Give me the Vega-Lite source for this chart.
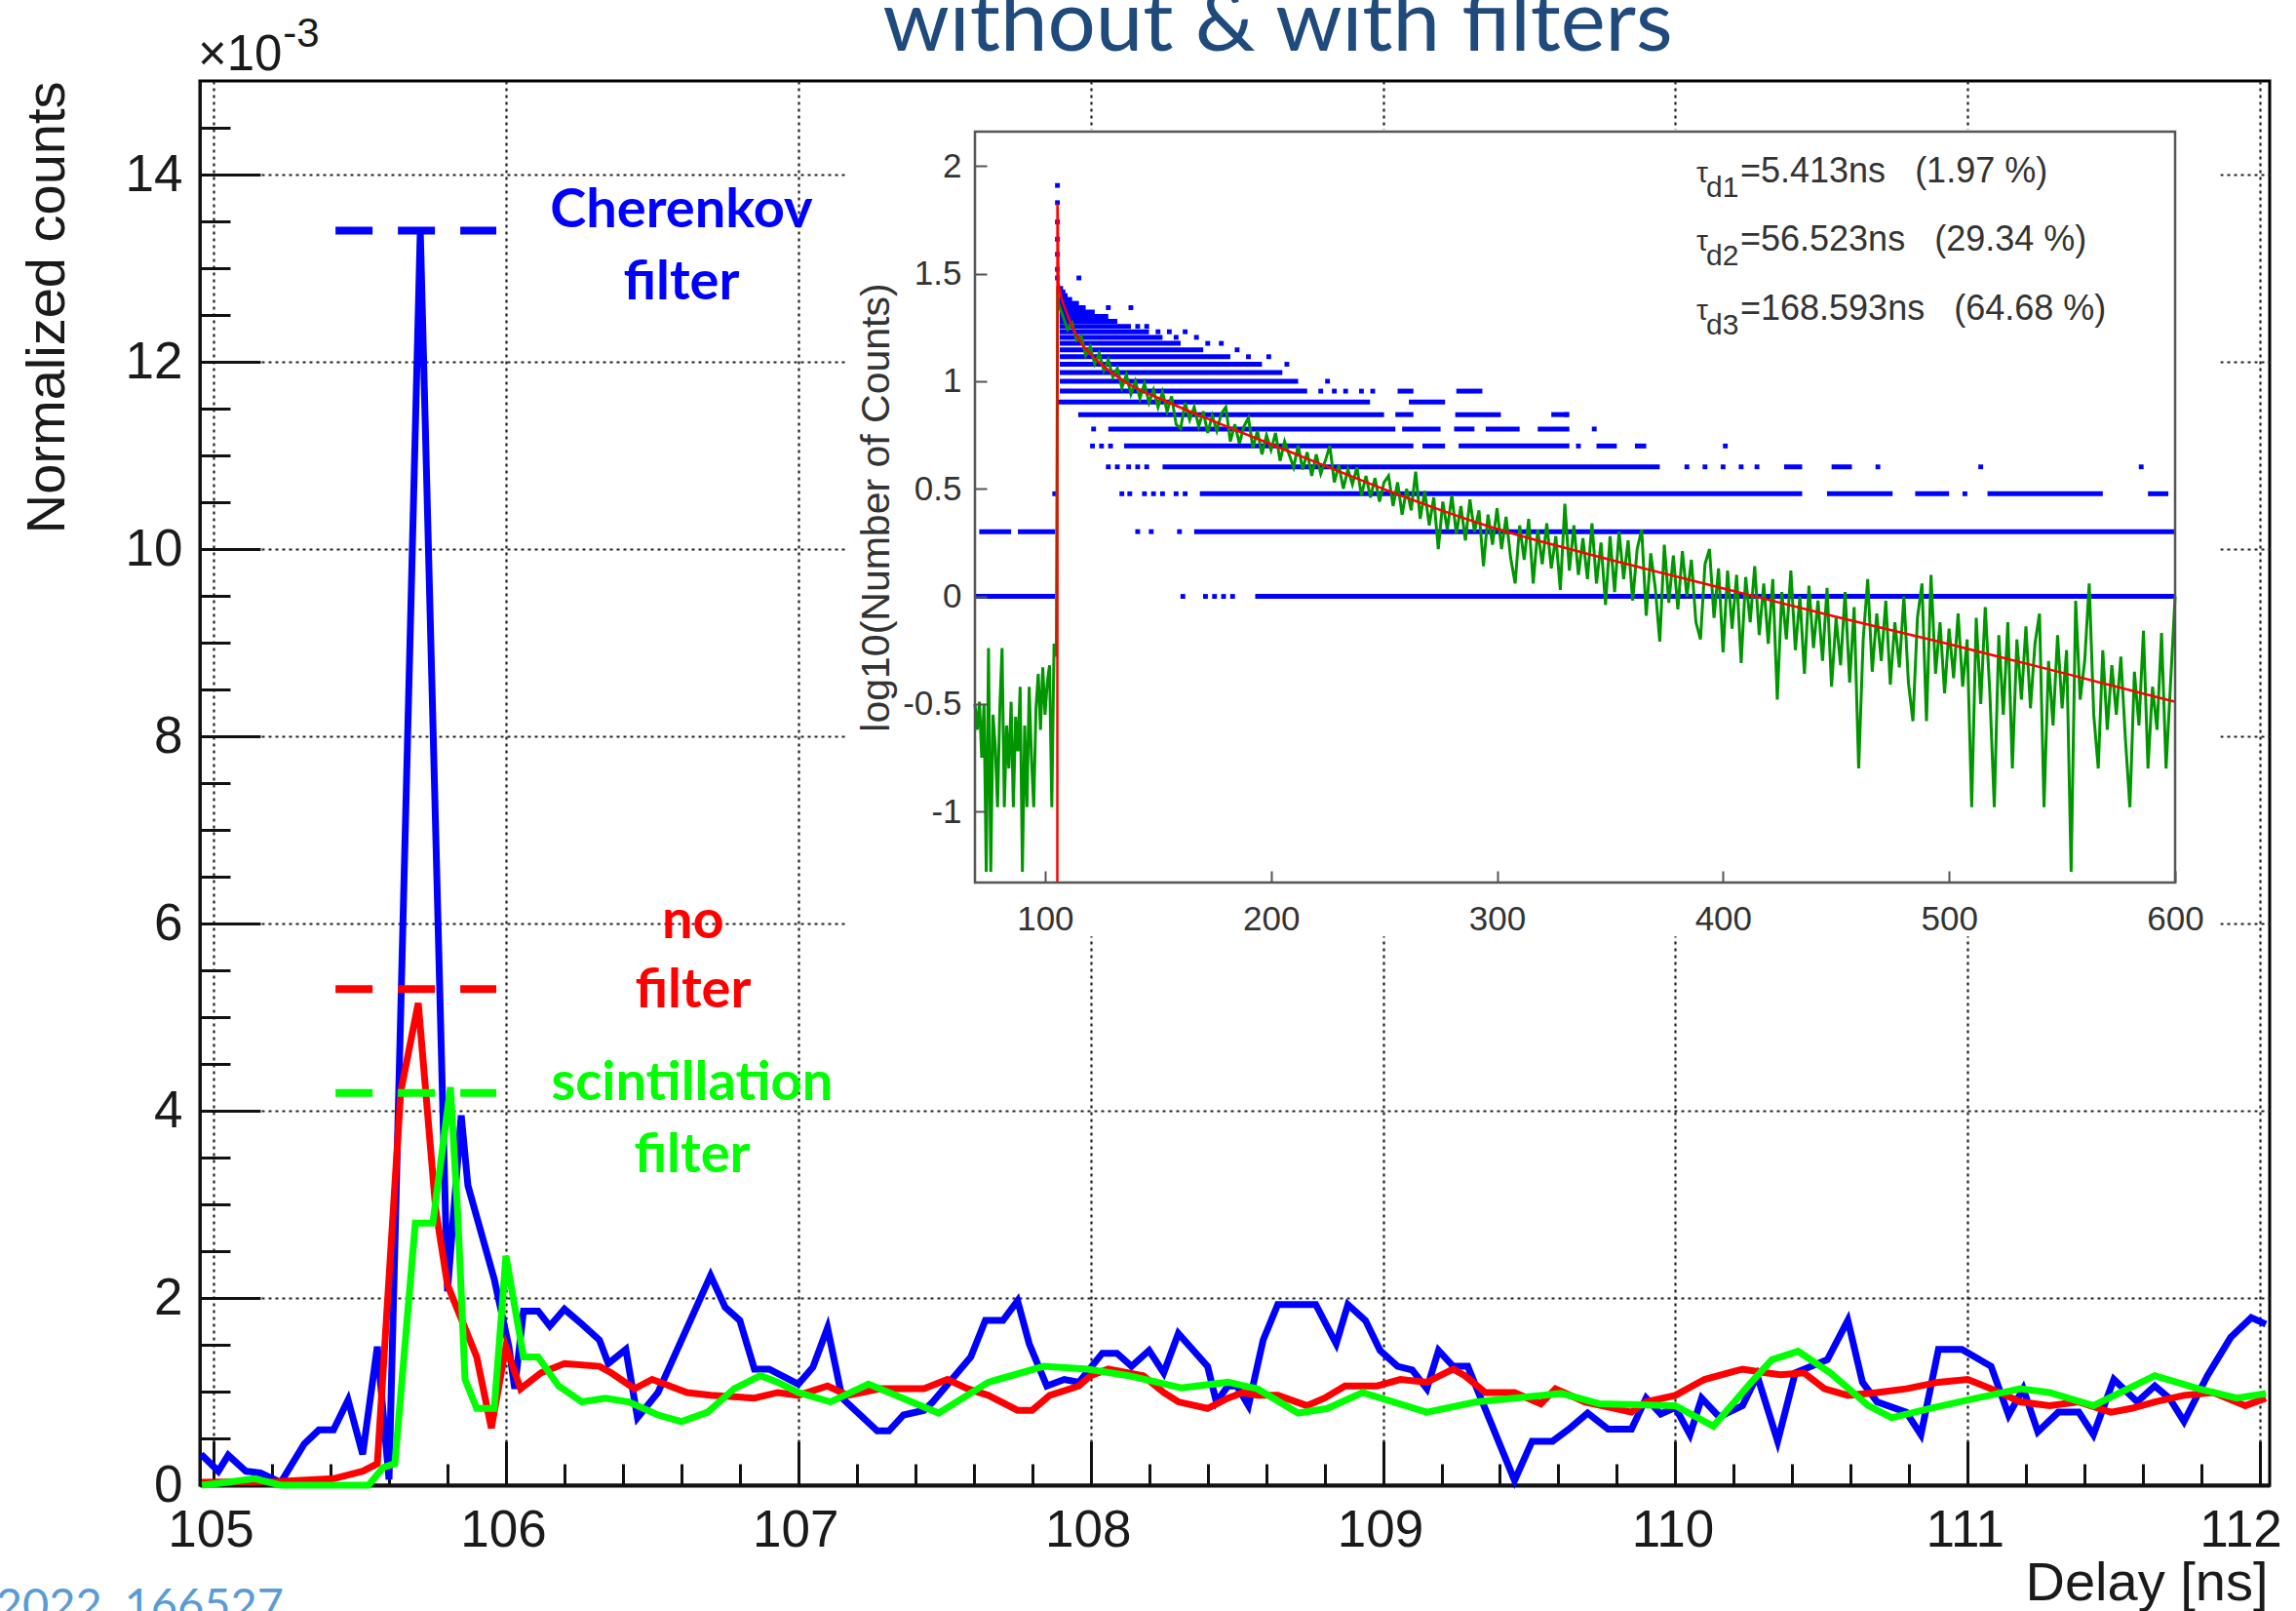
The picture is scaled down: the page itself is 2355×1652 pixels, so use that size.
{
"$schema": "https://vega.github.io/schema/vega-lite/v6.json",
"width": 2123, "height": 1440,
"autosize": {"type": "none"},
"padding": {"left": 205, "top": 83, "right": 27, "bottom": 129},
"background": "white",
"config": {"view": {"stroke": "#000", "strokeWidth": 3}, "font": "Liberation Sans"},
"datasets": {
"blue": [{"x":104.957,"y":0.33},{"x":105.016,"y":0.15},{"x":105.05,"y":0.32},{"x":105.11,"y":0.15},{"x":105.16,"y":0.13},{"x":105.23,"y":0.03},{"x":105.31,"y":0.44},{"x":105.36,"y":0.59},{"x":105.41,"y":0.59},{"x":105.46,"y":0.91},{"x":105.51,"y":0.33},{"x":105.56,"y":1.48},{"x":105.6,"y":0.06},{"x":105.707,"y":13.4},{"x":105.8,"y":2.07},{"x":105.847,"y":3.95},{"x":105.87,"y":3.2},{"x":105.96,"y":2.2},{"x":106.01,"y":1.48},{"x":106.03,"y":1.03},{"x":106.06,"y":1.86},{"x":106.11,"y":1.86},{"x":106.15,"y":1.7},{"x":106.2,"y":1.88},{"x":106.26,"y":1.72},{"x":106.32,"y":1.55},{"x":106.35,"y":1.3},{"x":106.41,"y":1.45},{"x":106.45,"y":0.72},{"x":106.52,"y":0.99},{"x":106.7,"y":2.24},{"x":106.75,"y":1.9},{"x":106.8,"y":1.76},{"x":106.85,"y":1.24},{"x":106.9,"y":1.24},{"x":107.0,"y":1.08},{"x":107.05,"y":1.26},{"x":107.1,"y":1.68},{"x":107.15,"y":0.93},{"x":107.27,"y":0.58},{"x":107.31,"y":0.58},{"x":107.36,"y":0.75},{"x":107.43,"y":0.8},{"x":107.46,"y":0.89},{"x":107.59,"y":1.37},{"x":107.64,"y":1.76},{"x":107.7,"y":1.76},{"x":107.75,"y":1.97},{"x":107.79,"y":1.51},{"x":107.85,"y":1.06},{"x":107.91,"y":1.13},{"x":107.96,"y":1.1},{"x":108.04,"y":1.41},{"x":108.09,"y":1.41},{"x":108.14,"y":1.27},{"x":108.2,"y":1.44},{"x":108.25,"y":1.2},{"x":108.3,"y":1.62},{"x":108.4,"y":1.27},{"x":108.43,"y":0.89},{"x":108.47,"y":1.06},{"x":108.5,"y":1.06},{"x":108.54,"y":0.85},{"x":108.59,"y":1.55},{"x":108.64,"y":1.93},{"x":108.77,"y":1.93},{"x":108.84,"y":1.51},{"x":108.88,"y":1.93},{"x":108.94,"y":1.76},{"x":108.99,"y":1.44},{"x":109.05,"y":1.27},{"x":109.1,"y":1.23},{"x":109.15,"y":1.03},{"x":109.19,"y":1.44},{"x":109.24,"y":1.27},{"x":109.29,"y":1.27},{"x":109.45,"y":0.05},{"x":109.51,"y":0.47},{"x":109.58,"y":0.47},{"x":109.64,"y":0.61},{"x":109.7,"y":0.77},{"x":109.77,"y":0.6},{"x":109.85,"y":0.6},{"x":109.9,"y":0.93},{"x":109.95,"y":0.76},{"x":110.0,"y":0.83},{"x":110.05,"y":0.54},{"x":110.09,"y":0.93},{"x":110.15,"y":0.73},{"x":110.23,"y":0.85},{"x":110.28,"y":1.17},{"x":110.35,"y":0.47},{"x":110.41,"y":1.2},{"x":110.52,"y":1.34},{"x":110.59,"y":1.76},{"x":110.64,"y":1.1},{"x":110.69,"y":0.89},{"x":110.79,"y":0.78},{"x":110.84,"y":0.54},{"x":110.9,"y":1.45},{"x":110.98,"y":1.45},{"x":111.08,"y":1.27},{"x":111.14,"y":0.75},{"x":111.19,"y":1.03},{"x":111.24,"y":0.57},{"x":111.31,"y":0.78},{"x":111.38,"y":0.78},{"x":111.43,"y":0.54},{"x":111.5,"y":1.13},{"x":111.58,"y":0.89},{"x":111.64,"y":1.06},{"x":111.69,"y":0.93},{"x":111.74,"y":0.68},{"x":111.82,"y":1.17},{"x":111.9,"y":1.58},{"x":111.97,"y":1.79},{"x":112.02,"y":1.72}],
"red": [{"x":104.96,"y":0.03},{"x":105.22,"y":0.04},{"x":105.41,"y":0.07},{"x":105.51,"y":0.15},{"x":105.56,"y":0.23},{"x":105.64,"y":4.2},{"x":105.7,"y":5.15},{"x":105.76,"y":2.94},{"x":105.8,"y":2.14},{"x":105.9,"y":1.37},{"x":105.95,"y":0.61},{"x":106.0,"y":1.48},{"x":106.05,"y":1.03},{"x":106.12,"y":1.2},{"x":106.2,"y":1.3},{"x":106.32,"y":1.27},{"x":106.36,"y":1.2},{"x":106.44,"y":1.03},{"x":106.5,"y":1.13},{"x":106.62,"y":0.99},{"x":106.7,"y":0.96},{"x":106.85,"y":0.93},{"x":106.93,"y":0.99},{"x":107.0,"y":0.96},{"x":107.1,"y":1.06},{"x":107.17,"y":0.96},{"x":107.28,"y":1.03},{"x":107.43,"y":1.03},{"x":107.51,"y":1.13},{"x":107.58,"y":1.03},{"x":107.65,"y":0.96},{"x":107.75,"y":0.8},{"x":107.8,"y":0.8},{"x":107.86,"y":0.96},{"x":107.96,"y":1.06},{"x":108.0,"y":1.17},{"x":108.06,"y":1.24},{"x":108.18,"y":1.17},{"x":108.25,"y":0.99},{"x":108.3,"y":0.89},{"x":108.4,"y":0.82},{"x":108.47,"y":0.93},{"x":108.52,"y":0.99},{"x":108.57,"y":0.96},{"x":108.64,"y":0.96},{"x":108.74,"y":0.85},{"x":108.8,"y":0.93},{"x":108.87,"y":1.06},{"x":108.98,"y":1.06},{"x":109.06,"y":1.13},{"x":109.15,"y":1.1},{"x":109.24,"y":1.24},{"x":109.28,"y":1.17},{"x":109.35,"y":0.99},{"x":109.45,"y":0.99},{"x":109.54,"y":0.87},{"x":109.59,"y":1.03},{"x":109.69,"y":0.89},{"x":109.85,"y":0.78},{"x":109.9,"y":0.89},{"x":110.0,"y":0.96},{"x":110.1,"y":1.13},{"x":110.23,"y":1.24},{"x":110.31,"y":1.2},{"x":110.36,"y":1.18},{"x":110.44,"y":1.2},{"x":110.51,"y":1.03},{"x":110.59,"y":0.96},{"x":110.69,"y":0.99},{"x":110.79,"y":1.03},{"x":110.9,"y":1.1},{"x":111.0,"y":1.13},{"x":111.08,"y":1.03},{"x":111.18,"y":0.89},{"x":111.28,"y":0.85},{"x":111.38,"y":0.89},{"x":111.49,"y":0.78},{"x":111.56,"y":0.82},{"x":111.64,"y":0.89},{"x":111.74,"y":0.96},{"x":111.84,"y":0.99},{"x":111.95,"y":0.85},{"x":112.02,"y":0.93}],
"green": [{"x":104.96,"y":0.0},{"x":105.02,"y":0.02},{"x":105.14,"y":0.07},{"x":105.23,"y":0.0},{"x":105.53,"y":0.0},{"x":105.58,"y":0.19},{"x":105.62,"y":0.23},{"x":105.69,"y":2.8},{"x":105.75,"y":2.8},{"x":105.81,"y":4.25},{"x":105.835,"y":2.9},{"x":105.86,"y":1.13},{"x":105.9,"y":0.82},{"x":105.96,"y":0.82},{"x":106.0,"y":2.45},{"x":106.06,"y":1.37},{"x":106.11,"y":1.37},{"x":106.18,"y":1.06},{"x":106.26,"y":0.89},{"x":106.34,"y":0.93},{"x":106.42,"y":0.89},{"x":106.52,"y":0.75},{"x":106.6,"y":0.68},{"x":106.69,"y":0.78},{"x":106.78,"y":1.03},{"x":106.87,"y":1.17},{"x":106.93,"y":1.1},{"x":107.0,"y":0.99},{"x":107.11,"y":0.89},{"x":107.24,"y":1.08},{"x":107.48,"y":0.77},{"x":107.65,"y":1.1},{"x":107.84,"y":1.27},{"x":107.99,"y":1.24},{"x":108.13,"y":1.17},{"x":108.31,"y":1.04},{"x":108.47,"y":1.1},{"x":108.57,"y":1.03},{"x":108.71,"y":0.77},{"x":108.81,"y":0.82},{"x":108.93,"y":0.99},{"x":109.15,"y":0.78},{"x":109.32,"y":0.89},{"x":109.45,"y":0.93},{"x":109.61,"y":0.98},{"x":109.74,"y":0.87},{"x":110.0,"y":0.85},{"x":110.13,"y":0.63},{"x":110.26,"y":1.1},{"x":110.33,"y":1.34},{"x":110.42,"y":1.43},{"x":110.53,"y":1.2},{"x":110.66,"y":0.85},{"x":110.74,"y":0.72},{"x":110.87,"y":0.82},{"x":110.97,"y":0.89},{"x":111.18,"y":1.03},{"x":111.28,"y":0.99},{"x":111.43,"y":0.85},{"x":111.64,"y":1.17},{"x":111.79,"y":1.03},{"x":111.92,"y":0.93},{"x":112.02,"y":0.98}],
"legendLines": [{"s":"Cherenkov filter","x":105.417,"x2":105.967,"y":13.4},{"s":"no filter","x":105.417,"x2":105.967,"y":5.3},{"s":"scintillation filter","x":105.417,"x2":105.967,"y":4.19}],
"legendText": [{"s":"Cherenkov filter","x":106.6,"y":13.44,"t":"Cherenkov"},{"s":"Cherenkov filter","x":106.6,"y":12.67,"t":"filter"},{"s":"no filter","x":106.64,"y":5.84,"t":"no"},{"s":"no filter","x":106.64,"y":5.1,"t":"filter"},{"s":"scintillation filter","x":106.637,"y":4.11,"t":"scintillation"},{"s":"scintillation filter","x":106.637,"y":3.34,"t":"filter"}],
"bands": [{"iy":0,"ix":69,"ix2":104.5},{"iy":0,"ix":193,"ix2":600},{"iy":0.301,"ix":70.9,"ix2":85},{"iy":0.301,"ix":88,"ix2":104.5},{"iy":0.301,"ix":166,"ix2":600},{"iy":0.477,"ix":168.5,"ix2":435},{"iy":0.477,"ix":446,"ix2":475},{"iy":0.477,"ix":485,"ix2":500},{"iy":0.477,"ix":517,"ix2":568},{"iy":0.477,"ix":588,"ix2":597},{"iy":0.602,"ix":152,"ix2":372},{"iy":0.602,"ix":427,"ix2":435},{"iy":0.602,"ix":448,"ix2":457},{"iy":0.699,"ix":135,"ix2":263},{"iy":0.699,"ix":267,"ix2":277},{"iy":0.699,"ix":283,"ix2":332},{"iy":0.699,"ix":344,"ix2":353},{"iy":0.699,"ix":361,"ix2":366},{"iy":0.778,"ix":128,"ix2":255},{"iy":0.778,"ix":258,"ix2":275},{"iy":0.778,"ix":281,"ix2":290},{"iy":0.778,"ix":295,"ix2":310},{"iy":0.778,"ix":318,"ix2":332},{"iy":0.845,"ix":114.7,"ix2":250},{"iy":0.845,"ix":255,"ix2":263},{"iy":0.845,"ix":281.5,"ix2":301.7},{"iy":0.845,"ix":324,"ix2":332},{"iy":0.903,"ix":105.5,"ix2":243.8},{"iy":0.903,"ix":261,"ix2":277},{"iy":0.954,"ix":106.5,"ix2":216},{"iy":0.954,"ix":256,"ix2":263},{"iy":0.954,"ix":282,"ix2":293.5},{"iy":1.0,"ix":106.5,"ix2":212},{"iy":1.041,"ix":106.5,"ix2":205},{"iy":1.079,"ix":106.5,"ix2":196},{"iy":1.114,"ix":106.5,"ix2":182},{"iy":1.146,"ix":106.5,"ix2":170},{"iy":1.176,"ix":106.5,"ix2":160},{"iy":1.204,"ix":106.5,"ix2":152},{"iy":1.23,"ix":106.5,"ix2":146},{"iy":1.255,"ix":106.5,"ix2":138},{"iy":1.279,"ix":106.5,"ix2":132},{"iy":1.301,"ix":106.5,"ix2":128},{"iy":1.322,"ix":106.5,"ix2":122},{"iy":1.342,"ix":106.5,"ix2":118},{"iy":1.362,"ix":106.5,"ix2":115},{"iy":1.38,"ix":106.5,"ix2":112},{"iy":1.398,"ix":106.5,"ix2":110},{"iy":1.415,"ix":106.5,"ix2":109},{"iy":1.431,"ix":106.5,"ix2":108}],
"dots": [{"ix":161,"iy":0},{"ix":171,"iy":0},{"ix":175,"iy":0},{"ix":179,"iy":0},{"ix":183,"iy":0},{"ix":141,"iy":0.301},{"ix":147,"iy":0.301},{"ix":159.5,"iy":0.301},{"ix":104.3,"iy":0.477},{"ix":134,"iy":0.477},{"ix":137.5,"iy":0.477},{"ix":144,"iy":0.477},{"ix":148,"iy":0.477},{"ix":152,"iy":0.477},{"ix":158,"iy":0.477},{"ix":162,"iy":0.477},{"ix":507,"iy":0.477},{"ix":128,"iy":0.602},{"ix":132,"iy":0.602},{"ix":137,"iy":0.602},{"ix":141,"iy":0.602},{"ix":145,"iy":0.602},{"ix":384,"iy":0.602},{"ix":392,"iy":0.602},{"ix":400,"iy":0.602},{"ix":408,"iy":0.602},{"ix":415,"iy":0.602},{"ix":468.5,"iy":0.602},{"ix":514,"iy":0.602},{"ix":585,"iy":0.602},{"ix":121,"iy":0.699},{"ix":125,"iy":0.699},{"ix":129,"iy":0.699},{"ix":336,"iy":0.699},{"ix":401,"iy":0.699},{"ix":121.5,"iy":0.778},{"ix":343,"iy":0.778},{"ix":330.6,"iy":0.845},{"ix":222,"iy":0.954},{"ix":228,"iy":0.954},{"ix":233,"iy":0.954},{"ix":240,"iy":0.954},{"ix":245,"iy":0.954},{"ix":225,"iy":1.0},{"ix":115,"iy":1.48},{"ix":128,"iy":1.342},{"ix":138,"iy":1.342},{"ix":141,"iy":1.255},{"ix":145,"iy":1.255},{"ix":150,"iy":1.23},{"ix":155,"iy":1.23},{"ix":162,"iy":1.23},{"ix":158,"iy":1.204},{"ix":167,"iy":1.204},{"ix":172,"iy":1.176},{"ix":178,"iy":1.176},{"ix":185,"iy":1.146},{"ix":190,"iy":1.114},{"ix":199,"iy":1.114},{"ix":207,"iy":1.079},{"ix":105.5,"iy":1.91},{"ix":105.5,"iy":1.83},{"ix":105.5,"iy":1.74},{"ix":105.5,"iy":1.66},{"ix":105.5,"iy":1.59},{"ix":105.5,"iy":1.52},{"ix":105.5,"iy":1.48}],
"fit": [{"ix":105.45,"iy":-1.33},{"ix":105.5,"iy":1.82},{"ix":106,"iy":1.456},{"ix":109.5,"iy":1.32},{"ix":114.7,"iy":1.2},{"ix":124.8,"iy":1.08},{"ix":135,"iy":1.0},{"ix":155,"iy":0.9},{"ix":175.6,"iy":0.81},{"ix":216,"iy":0.64},{"ix":257,"iy":0.47},{"ix":298,"iy":0.32},{"ix":332,"iy":0.22},{"ix":365,"iy":0.13},{"ix":399,"iy":0.04},{"ix":450,"iy":-0.095},{"ix":500,"iy":-0.222},{"ix":550,"iy":-0.355},{"ix":600,"iy":-0.49}],
"igreen": [{"ix":69,"iy":-0.5},{"ix":70,"iy":-0.62},{"ix":71,"iy":-0.49},{"ix":72,"iy":-0.75},{"ix":73,"iy":-0.5},{"ix":74,"iy":-1.28},{"ix":75,"iy":-0.24},{"ix":76,"iy":-1.28},{"ix":77,"iy":-0.55},{"ix":78,"iy":-0.7},{"ix":79,"iy":-0.98},{"ix":80,"iy":-0.52},{"ix":81,"iy":-0.24},{"ix":82,"iy":-0.98},{"ix":83,"iy":-0.6},{"ix":84,"iy":-0.8},{"ix":85,"iy":-0.49},{"ix":86,"iy":-0.98},{"ix":87,"iy":-0.56},{"ix":88,"iy":-0.72},{"ix":89,"iy":-0.42},{"ix":90,"iy":-1.28},{"ix":91,"iy":-0.6},{"ix":92,"iy":-0.98},{"ix":93,"iy":-0.42},{"ix":94,"iy":-0.75},{"ix":95,"iy":-0.98},{"ix":96,"iy":-0.52},{"ix":97,"iy":-0.36},{"ix":98,"iy":-0.62},{"ix":99,"iy":-0.33},{"ix":100,"iy":-0.55},{"ix":101,"iy":-0.4},{"ix":102,"iy":-0.32},{"ix":103,"iy":-0.98},{"ix":104,"iy":-0.22},{"ix":105,"iy":-0.28},{"ix":105.6,"iy":1.44},{"ix":106,"iy":1.36},
{"ix":108,"iy":1.3},{"ix":110,"iy":1.24},{"ix":112,"iy":1.27},{"ix":114,"iy":1.19},{"ix":116,"iy":1.21},{"ix":118,"iy":1.12},{"ix":120,"iy":1.16},{"ix":122,"iy":1.08},{"ix":124,"iy":1.13},{"ix":126,"iy":1.05},{"ix":128,"iy":1.1},{"ix":130,"iy":1.02},{"ix":132,"iy":1.06},{"ix":134,"iy":0.97},{"ix":136,"iy":1.03},{"ix":138,"iy":0.94},{"ix":140,"iy":1.0},{"ix":142,"iy":0.92},{"ix":144,"iy":0.99},{"ix":146,"iy":0.9},{"ix":148,"iy":0.96},{"ix":150,"iy":0.88},
{"ix":152,"iy":0.95},{"ix":154,"iy":0.86},{"ix":156,"iy":0.93},{"ix":158,"iy":0.8},{"ix":160,"iy":0.78},{"ix":162,"iy":0.9},{"ix":164,"iy":0.82},{"ix":166,"iy":0.88},{"ix":168,"iy":0.79},{"ix":170,"iy":0.86},{"ix":172,"iy":0.76},{"ix":174,"iy":0.84},{"ix":176,"iy":0.77},{"ix":178,"iy":0.85},{"ix":180,"iy":0.88},{"ix":182,"iy":0.72},{"ix":184,"iy":0.8},{"ix":186,"iy":0.71},{"ix":188,"iy":0.79},{"ix":190,"iy":0.83},{"ix":192,"iy":0.69},{"ix":194,"iy":0.77},{"ix":196,"iy":0.66},{"ix":198,"iy":0.75},{"ix":200,"iy":0.68},{"ix":202,"iy":0.76},{"ix":204,"iy":0.63},{"ix":206,"iy":0.72},{"ix":208,"iy":0.66},{"ix":210,"iy":0.6},{"ix":212,"iy":0.7},{"ix":214,"iy":0.59},{"ix":216,"iy":0.67},{"ix":218,"iy":0.56},{"ix":220,"iy":0.66},{"ix":222,"iy":0.57},{"ix":224,"iy":0.63},{"ix":226,"iy":0.7},{"ix":228,"iy":0.53},{"ix":230,"iy":0.61},{"ix":232,"iy":0.5},{"ix":234,"iy":0.59},{"ix":236,"iy":0.52},{"ix":238,"iy":0.6},{"ix":240,"iy":0.47},{"ix":242,"iy":0.56},{"ix":244,"iy":0.46},{"ix":246,"iy":0.55},{"ix":248,"iy":0.44},{"ix":250,"iy":0.53},
{"ix":252,"iy":0.56},{"ix":254,"iy":0.42},{"ix":256,"iy":0.53},{"ix":258,"iy":0.38},{"ix":260,"iy":0.5},{"ix":262,"iy":0.4},{"ix":264,"iy":0.58},{"ix":266,"iy":0.36},{"ix":268,"iy":0.49},{"ix":270,"iy":0.33},{"ix":272,"iy":0.46},{"ix":274,"iy":0.22},{"ix":276,"iy":0.44},{"ix":278,"iy":0.31},{"ix":280,"iy":0.47},{"ix":282,"iy":0.29},{"ix":284,"iy":0.42},{"ix":286,"iy":0.26},{"ix":288,"iy":0.45},{"ix":290,"iy":0.3},{"ix":292,"iy":0.4},{"ix":294,"iy":0.14},{"ix":296,"iy":0.38},{"ix":298,"iy":0.24},{"ix":300,"iy":0.41},{"ix":302,"iy":0.22},{"ix":304,"iy":0.37},{"ix":306,"iy":0.18},{"ix":308,"iy":0.06},{"ix":310,"iy":0.33},{"ix":312,"iy":0.17},{"ix":314,"iy":0.36},{"ix":316,"iy":0.06},{"ix":318,"iy":0.31},{"ix":320,"iy":0.15},{"ix":322,"iy":0.34},{"ix":324,"iy":0.13},{"ix":326,"iy":0.28},{"ix":328,"iy":0.03},{"ix":330,"iy":0.43},{"ix":332,"iy":0.12},{"ix":334,"iy":0.33},{"ix":336,"iy":0.1},{"ix":338,"iy":0.27},{"ix":340,"iy":0.08},{"ix":342,"iy":0.34},{"ix":344,"iy":0.06},{"ix":346,"iy":0.25},{"ix":348,"iy":-0.04},{"ix":350,"iy":0.28},
{"ix":352,"iy":0.02},{"ix":354,"iy":0.3},{"ix":356,"iy":0.08},{"ix":358,"iy":0.26},{"ix":360,"iy":-0.02},{"ix":362,"iy":0.22},{"ix":364,"iy":0.31},{"ix":366,"iy":-0.09},{"ix":368,"iy":0.2},{"ix":370,"iy":0.04},{"ix":372,"iy":-0.21},{"ix":374,"iy":0.24},{"ix":376,"iy":-0.03},{"ix":378,"iy":0.19},{"ix":380,"iy":-0.06},{"ix":382,"iy":0.21},{"ix":384,"iy":0.0},{"ix":386,"iy":0.17},{"ix":388,"iy":-0.12},{"ix":390,"iy":-0.2},{"ix":392,"iy":0.15},{"ix":394,"iy":0.22},{"ix":396,"iy":-0.1},{"ix":398,"iy":0.13},{"ix":400,"iy":-0.26},{"ix":402,"iy":0.12},{"ix":404,"iy":-0.15},{"ix":406,"iy":0.1},{"ix":408,"iy":-0.31},{"ix":410,"iy":0.09},{"ix":412,"iy":-0.12},{"ix":414,"iy":0.14},{"ix":416,"iy":-0.18},{"ix":418,"iy":0.06},{"ix":420,"iy":-0.22},{"ix":422,"iy":0.08},{"ix":424,"iy":-0.48},{"ix":426,"iy":0.02},{"ix":428,"iy":-0.2},{"ix":430,"iy":0.12},{"ix":432,"iy":-0.25},{"ix":434,"iy":0.0},{"ix":436,"iy":-0.36},{"ix":438,"iy":0.05},{"ix":440,"iy":-0.24},{"ix":442,"iy":-0.02},{"ix":444,"iy":-0.3},{"ix":446,"iy":0.04},{"ix":448,"iy":-0.42},{"ix":450,"iy":-0.1},
{"ix":452,"iy":-0.32},{"ix":454,"iy":0.02},{"ix":456,"iy":-0.4},{"ix":458,"iy":-0.05},{"ix":460,"iy":-0.8},{"ix":462,"iy":-0.2},{"ix":464,"iy":0.08},{"ix":466,"iy":-0.35},{"ix":468,"iy":-0.08},{"ix":470,"iy":-0.3},{"ix":472,"iy":-0.02},{"ix":474,"iy":-0.41},{"ix":476,"iy":-0.12},{"ix":478,"iy":-0.33},{"ix":480,"iy":0.0},{"ix":482,"iy":-0.4},{"ix":484,"iy":-0.58},{"ix":486,"iy":-0.1},{"ix":488,"iy":0.06},{"ix":490,"iy":-0.58},{"ix":492,"iy":0.1},{"ix":494,"iy":-0.36},{"ix":496,"iy":-0.12},{"ix":498,"iy":-0.45},{"ix":500,"iy":-0.15},{"ix":502,"iy":-0.38},{"ix":504,"iy":-0.08},{"ix":506,"iy":-0.42},{"ix":508,"iy":-0.2},{"ix":510,"iy":-0.98},{"ix":512,"iy":-0.1},{"ix":514,"iy":-0.5},{"ix":516,"iy":-0.05},{"ix":518,"iy":-0.44},{"ix":520,"iy":-0.98},{"ix":522,"iy":-0.18},{"ix":524,"iy":-0.55},{"ix":526,"iy":-0.12},{"ix":528,"iy":-0.8},{"ix":530,"iy":-0.2},{"ix":532,"iy":-0.48},{"ix":534,"iy":-0.14},{"ix":536,"iy":-0.52},{"ix":538,"iy":-0.22},{"ix":540,"iy":-0.08},{"ix":542,"iy":-0.98},{"ix":544,"iy":-0.3},{"ix":546,"iy":-0.6},{"ix":548,"iy":-0.18},{"ix":550,"iy":-0.52},{"ix":552,"iy":-0.25},{"ix":554,"iy":-1.28},{"ix":556,"iy":-0.02},{"ix":558,"iy":-0.48},{"ix":560,"iy":-0.3},{"ix":562,"iy":0.06},{"ix":564,"iy":-0.55},{"ix":566,"iy":-0.8},{"ix":568,"iy":-0.25},{"ix":570,"iy":-0.62},{"ix":572,"iy":-0.32},{"ix":574,"iy":-0.55},{"ix":576,"iy":-0.28},{"ix":578,"iy":-0.66},{"ix":580,"iy":-0.98},{"ix":582,"iy":-0.35},{"ix":584,"iy":-0.6},{"ix":586,"iy":-0.16},{"ix":588,"iy":-0.8},{"ix":590,"iy":-0.42},{"ix":592,"iy":-0.62},{"ix":594,"iy":-0.17},{"ix":596,"iy":-0.8},{"ix":598,"iy":-0.4},{"ix":600,"iy":0.0}],
"tau": [{"ix":388.2,"iy":1.925,"sub":"d1","t":"=5.413ns\u00a0\u00a0\u00a0(1.97 %)"},{"ix":388.2,"iy":1.607,"sub":"d2","t":"=56.523ns\u00a0\u00a0\u00a0(29.34 %)"},{"ix":388.2,"iy":1.286,"sub":"d3","t":"=168.593ns\u00a0\u00a0\u00a0(64.68 %)"}]
},
"layer": [
{"layer": [
 {"data": {"name": "blue"},
  "mark": {"type": "line", "color": "#0000FF", "strokeWidth": 7},
  "encoding": {
   "x": {"field": "x", "type": "quantitative",
    "scale": {"domain": [104.953, 112.033], "nice": false, "zero": false},
    "axis": {"orient": "bottom", "values": [105,105.2,105.4,105.6,105.8,106,106.2,106.4,106.6,106.8,107,107.2,107.4,107.6,107.8,108,108.2,108.4,108.6,108.8,109,109.2,109.4,109.6,109.8,110,110.2,110.4,110.6,110.8,111,111.2,111.4,111.6,111.8,112],
     "labelExpr": "datum.value % 1 === 0 ? format(datum.value, 'd') : ''",
     "labelFontSize": 53, "labelColor": "#1a1a1a", "labelPadding": 65, "labelOverlap": false, "labelFlush": false,
     "labelOffset": {"condition": {"test": "datum.value === 112", "value": -20}, "value": -3},
     "tickSize": {"condition": {"test": "datum.value % 1 === 0", "value": -45}, "value": -22},
     "tickColor": "#111", "tickWidth": 3, "domainColor": "#111", "domainWidth": 4,
     "grid": true, "gridColor": "#222", "gridDash": [3, 4], "gridWidth": 2.2,
     "gridOpacity": {"condition": {"test": "datum.value % 1 === 0", "value": 1}, "value": 0},
     "title": "Delay [ns]", "titleFontSize": 56, "titleFontWeight": "normal", "titleColor": "#1a1a1a",
     "titleAlign": "right", "titleAnchor": "end", "titleBaseline": "alphabetic", "titleX": 2121, "titleY": 117}},
   "y": {"field": "y", "type": "quantitative",
    "scale": {"domain": [0, 15], "nice": false, "zero": false},
    "axis": {"orient": "left", "values": [0,0.5,1,1.5,2,2.5,3,3.5,4,4.5,5,5.5,6,6.5,7,7.5,8,8.5,9,9.5,10,10.5,11,11.5,12,12.5,13,13.5,14,14.5],
     "labelExpr": "datum.value % 2 === 0 ? format(datum.value, 'd') : ''",
     "labelFontSize": 53, "labelColor": "#1a1a1a", "labelPadding": 80, "labelOverlap": false, "labelFlush": false,
     "tickSize": {"condition": {"test": "datum.value % 2 === 0", "value": -62}, "value": -31},
     "tickColor": "#111", "tickWidth": 3, "domainColor": "#111", "domainWidth": 3,
     "grid": true, "gridColor": "#222", "gridDash": [3, 4], "gridWidth": 2.2,
     "gridOpacity": {"condition": {"test": "datum.value % 2 === 0", "value": 1}, "value": 0},
     "title": "Normalized counts", "titleFontSize": 56, "titleFontWeight": "normal", "titleColor": "#1a1a1a",
     "titleAngle": 270, "titleAlign": "right", "titleBaseline": "alphabetic", "titleX": -140, "titleY": 0}}
  }},
 {"data": {"name": "red"}, "mark": {"type": "line", "color": "#FF0000", "strokeWidth": 7},
  "encoding": {"x": {"field": "x", "type": "quantitative"}, "y": {"field": "y", "type": "quantitative"}}},
 {"data": {"name": "green"}, "mark": {"type": "line", "color": "#00FF00", "strokeWidth": 7},
  "encoding": {"x": {"field": "x", "type": "quantitative"}, "y": {"field": "y", "type": "quantitative"}}},
 {"data": {"name": "legendLines"}, "mark": {"type": "rule", "strokeWidth": 8, "strokeDash": [38, 26]},
  "encoding": {"x": {"field": "x", "type": "quantitative"}, "x2": {"field": "x2"}, "y": {"field": "y", "type": "quantitative"},
   "color": {"field": "s", "type": "nominal", "scale": {"domain": ["Cherenkov filter", "no filter", "scintillation filter"], "range": ["#0000FF", "#FF0000", "#00FF00"]}, "legend": null}}},
 {"data": {"name": "legendText"}, "mark": {"type": "text", "font": "Lato", "fontWeight": "bold", "fontSize": 56, "align": "center", "baseline": "alphabetic"},
  "encoding": {"x": {"field": "x", "type": "quantitative"}, "y": {"field": "y", "type": "quantitative"}, "text": {"field": "t"},
   "color": {"field": "s", "type": "nominal", "legend": null}}},
 {"data": {"values": [{"x": 108.64, "y": 15.323, "t": "without & with filters"}]},
  "mark": {"type": "text", "font": "Lato", "fontSize": 87, "color": "#1F4A7C", "align": "center", "baseline": "alphabetic"},
  "encoding": {"x": {"field": "x", "type": "quantitative"}, "y": {"field": "y", "type": "quantitative"}, "text": {"field": "t"}}},
 {"data": {"values": [{"x": 104.946, "y": 15.115, "t": "×10"}]},
  "mark": {"type": "text", "fontSize": 51, "color": "#1a1a1a", "align": "left", "baseline": "alphabetic"},
  "encoding": {"x": {"field": "x", "type": "quantitative"}, "y": {"field": "y", "type": "quantitative"}, "text": {"field": "t"}}},
 {"data": {"values": [{"x": 105.237, "y": 15.365, "t": "-3"}]},
  "mark": {"type": "text", "fontSize": 42, "color": "#1a1a1a", "align": "left", "baseline": "alphabetic"},
  "encoding": {"x": {"field": "x", "type": "quantitative"}, "y": {"field": "y", "type": "quantitative"}, "text": {"field": "t"}}},
 {"data": {"values": [{"x": 105.24, "y": -1.448, "t": "2022, 166527"}]},
  "mark": {"type": "text", "font": "Lato", "fontSize": 47, "color": "#5B9BD5", "align": "right", "baseline": "alphabetic"},
  "encoding": {"x": {"field": "x", "type": "quantitative"}, "y": {"field": "y", "type": "quantitative"}, "text": {"field": "t"}}}
]},
{"layer": [
 {"data": {"values": [{"ix": 12, "ix2": 620, "iy": -1.58, "iy2": 2.17}]},
  "mark": {"type": "rect", "fill": "white", "strokeOpacity": 0},
  "encoding": {
   "x": {"field": "ix", "type": "quantitative",
    "scale": {"domain": [69, 600], "range": [795, 2026], "nice": false, "zero": false},
    "axis": {"orient": "bottom", "offset": -618, "values": [100, 200, 300, 400, 500, 600], "format": "d",
     "labelFontSize": 35, "labelColor": "#333", "labelPadding": 32, "labelOverlap": false, "labelFlush": false,
     "tickSize": -12, "tickColor": "#555", "tickWidth": 2, "domain": false, "grid": false, "title": null, "zindex": 2}},
   "x2": {"field": "ix2"},
   "y": {"field": "iy", "type": "quantitative",
    "scale": {"domain": [-1.33, 2.16], "range": [822, 52], "nice": false, "zero": false},
    "axis": {"orient": "left", "offset": -795, "values": [-1, -0.5, 0, 0.5, 1, 1.5, 2],
     "labelExpr": "datum.value < 0 ? '-' + format(-datum.value, '') : format(datum.value, '')",
     "labelFontSize": 35, "labelColor": "#333", "labelPadding": 26, "labelOverlap": false, "labelFlush": false,
     "tickSize": -12, "tickColor": "#555", "tickWidth": 2, "domain": false, "grid": false, "zindex": 2,
     "title": "log10(Number of Counts)", "titleFontSize": 41, "titleFontWeight": "normal", "titleColor": "#333",
     "titleAngle": 270, "titleAlign": "center", "titleBaseline": "alphabetic", "titleX": -89, "titleY": 437}},
   "y2": {"field": "iy2"}
  }},
 {"data": {"name": "bands"}, "mark": {"type": "rule", "color": "#0000FF", "strokeWidth": 5},
  "encoding": {"x": {"field": "ix", "type": "quantitative"}, "x2": {"field": "ix2"}, "y": {"field": "iy", "type": "quantitative"}}},
 {"data": {"name": "dots"}, "mark": {"type": "square", "color": "#0000FF", "size": 24, "opacity": 1},
  "encoding": {"x": {"field": "ix", "type": "quantitative"}, "y": {"field": "iy", "type": "quantitative"}}},
 {"data": {"name": "igreen"}, "mark": {"type": "line", "color": "#009600", "strokeWidth": 3},
  "encoding": {"x": {"field": "ix", "type": "quantitative"}, "y": {"field": "iy", "type": "quantitative"}}},
 {"data": {"name": "fit"}, "mark": {"type": "line", "color": "#FF0000", "strokeWidth": 2.5, "interpolate": "monotone"},
  "encoding": {"x": {"field": "ix", "type": "quantitative"}, "y": {"field": "iy", "type": "quantitative"}}},
 {"data": {"values": [{"ix": 69, "ix2": 600, "iy": -1.33, "iy2": 2.16}]},
  "mark": {"type": "rect", "fillOpacity": 0, "stroke": "#555", "strokeWidth": 2.5},
  "encoding": {"x": {"field": "ix", "type": "quantitative"}, "x2": {"field": "ix2"}, "y": {"field": "iy", "type": "quantitative"}, "y2": {"field": "iy2"}}},
 {"data": {"name": "tau"}, "mark": {"type": "text", "fontSize": 30, "color": "#333", "align": "left", "baseline": "alphabetic", "text": "τ"},
  "encoding": {"x": {"field": "ix", "type": "quantitative"}, "y": {"field": "iy", "type": "quantitative"}}},
 {"data": {"name": "tau"}, "mark": {"type": "text", "fontSize": 30, "color": "#333", "align": "left", "baseline": "alphabetic", "dx": 10, "dy": 15},
  "encoding": {"x": {"field": "ix", "type": "quantitative"}, "y": {"field": "iy", "type": "quantitative"}, "text": {"field": "sub"}}},
 {"data": {"name": "tau"}, "mark": {"type": "text", "fontSize": 36, "color": "#333", "align": "left", "baseline": "alphabetic", "dx": 45},
  "encoding": {"x": {"field": "ix", "type": "quantitative"}, "y": {"field": "iy", "type": "quantitative"}, "text": {"field": "t"}}}
]}
],
"resolve": {"scale": {"x": "independent", "y": "independent"}, "axis": {"x": "independent", "y": "independent"}}
}
